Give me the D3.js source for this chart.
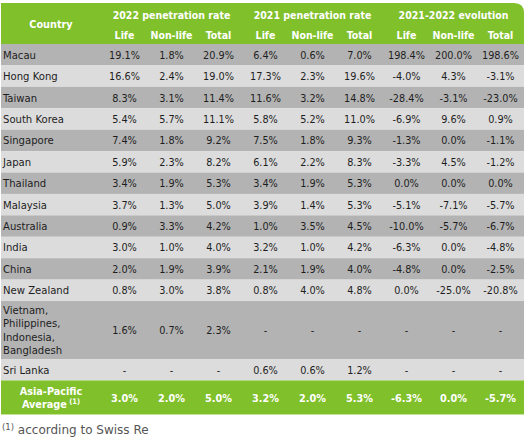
<!DOCTYPE html>
<html>
<head>
<meta charset="utf-8">
<script src="https://cdn.jsdelivr.net/npm/d3@7"></script>
<style>
  html, body { margin: 0; padding: 0; background: #fff; }
  svg text { font-family: "DejaVu Sans Condensed", "DejaVu Sans", sans-serif; font-stretch: condensed; }
</style>
</head>
<body>
<svg id="chart" width="526" height="442"></svg>
<script>
// ---- data ----
const countries = ["Macau", "Hong Kong", "Taiwan", "South Korea", "Singapore", "Japan", "Thailand",
  "Malaysia", "Australia", "India", "China", "New Zealand",
  "Vietnam,\nPhilippines,\nIndonesia,\nBangladesh", "Sri Lanka"];
const life2022    = [19.1, 16.6, 8.3, 5.4, 7.4, 5.9, 3.4, 3.7, 0.9, 3.0, 2.0, 0.8, 1.6, null];
const nonlife2022 = [1.8, 2.4, 3.1, 5.7, 1.8, 2.3, 1.9, 1.3, 3.3, 1.0, 1.9, 3.0, 0.7, null];
const total2022   = [20.9, 19.0, 11.4, 11.1, 9.2, 8.2, 5.3, 5.0, 4.2, 4.0, 3.9, 3.8, 2.3, null];
const life2021    = [6.4, 17.3, 11.6, 5.8, 7.5, 6.1, 3.4, 3.9, 1.0, 3.2, 2.1, 0.8, null, 0.6];
const nonlife2021 = [0.6, 2.3, 3.2, 5.2, 1.8, 2.2, 1.9, 1.4, 3.5, 1.0, 1.9, 4.0, null, 0.6];
const total2021   = [7.0, 19.6, 14.8, 11.0, 9.3, 8.3, 5.3, 5.3, 4.5, 4.2, 4.0, 4.8, null, 1.2];
const lifeEvo     = [198.4, -4.0, -28.4, -6.9, -1.3, -3.3, 0.0, -5.1, -10.0, -6.3, -4.8, 0.0, null, null];
const nonlifeEvo  = [200.0, 4.3, -3.1, 9.6, 0.0, 4.5, 0.0, -7.1, -5.7, 0.0, 0.0, -25.0, null, null];
const totalEvo    = [198.6, -3.1, -23.0, 0.9, -1.1, -1.2, 0.0, -5.7, -6.7, -4.8, -2.5, -20.8, null, null];

const avgLabel = "Asia-Pacific\nAverage";
const avgValues = [3.0, 2.0, 5.0, 3.2, 2.0, 5.3, -6.3, 0.0, -5.7];

const groupLabels = ["2022 penetration rate", "2021 penetration rate", "2021-2022 evolution"];
const subLabels = ["Life", "Non-life", "Total"];
const countryHeader = "Country";
const footnote = "according to Swiss Re";

// ---- layout ----
const svg = d3.select("#chart");
const green = "#80c02a", dark = "#b3b3b3", light = "#dcdcdc", ink = "#1e1e1e";

const colKeys = d3.range(9);
const x = d3.scaleBand().domain(colKeys).range([101, 524]);
const countryX0 = 1, countryX1 = 101, tableX1 = 524;

const headTop = 3, headBottom = 44;
const rowH = 21.42, lineH = 13.5;
const series = [life2022, nonlife2022, total2022, life2021, nonlife2021, total2021, lifeEvo, nonlifeEvo, totalEvo];

const rows = countries.map((c, i) => {
  const lines = c.split("\n");
  return { label: lines, values: series.map(s => s[i]), h: lines.length > 1 ? 58 : rowH };
});
let yy = headBottom;
rows.forEach(r => { r.y = yy; yy += r.h; });
const avgTop = yy, avgH = 34;

const fmt = v => v == null ? "-" : v.toFixed(1) + "%";

// header background with rounded top-right corner
const r = 10;
svg.append("path")
  .attr("d", `M${countryX0},${headTop} H${tableX1 - r} Q${tableX1},${headTop} ${tableX1},${headTop + r} V${headBottom} H${countryX0} Z`)
  .attr("fill", green);

svg.append("text").text(countryHeader)
  .attr("x", (countryX0 + countryX1) / 2).attr("y", 24)
  .attr("text-anchor", "middle").attr("dominant-baseline", "central")
  .attr("fill", "#fff").attr("font-weight", "bold").attr("font-size", 10.8);

groupLabels.forEach((g, gi) => {
  const cx = (x(gi * 3) + x(gi * 3 + 2) + x.bandwidth()) / 2;
  svg.append("text").text(g)
    .attr("x", cx).attr("y", 14.5)
    .attr("text-anchor", "middle").attr("dominant-baseline", "central")
    .attr("fill", "#fff").attr("font-weight", "bold").attr("font-size", 10.5);
});
colKeys.forEach(k => {
  svg.append("text").text(subLabels[k % 3])
    .attr("x", x(k) + x.bandwidth() / 2).attr("y", 34.5)
    .attr("text-anchor", "middle").attr("dominant-baseline", "central")
    .attr("fill", "#fff").attr("font-weight", "bold").attr("font-size", 10.5);
});

// body rows
const gRows = svg.selectAll("g.row").data(rows).join("g").attr("class", "row");
gRows.append("rect")
  .attr("x", countryX0).attr("y", d => d.y)
  .attr("width", tableX1 - countryX0).attr("height", d => d.h)
  .attr("fill", (d, i) => i % 2 === 0 ? dark : light);
gRows.each(function (d) {
  const g = d3.select(this);
  const cy = d.y + d.h / 2;
  const n = d.label.length;
  d.label.forEach((t, li) => {
    g.append("text").text(t)
      .attr("x", 3).attr("y", cy + (li - (n - 1) / 2) * lineH + 0.5)
      .attr("dominant-baseline", "central")
      .attr("fill", ink).attr("font-size", 11.2);
  });
  d.values.forEach((v, k) => {
    g.append("text").text(fmt(v))
      .attr("x", x(k) + x.bandwidth() / 2).attr("y", cy + 0.5)
      .attr("text-anchor", "middle").attr("dominant-baseline", "central")
      .attr("fill", ink).attr("font-size", 10.8);
  });
});

// average row
svg.append("rect").attr("x", countryX0).attr("y", avgTop)
  .attr("width", tableX1 - countryX0).attr("height", avgH).attr("fill", green);
const avgCy = avgTop + avgH / 2;
const avgLines = avgLabel.split("\n");
avgLines.forEach((t, li) => {
  const tx = svg.append("text")
    .attr("x", (countryX0 + countryX1) / 2).attr("y", avgCy + (li - 0.5) * 12.5)
    .attr("text-anchor", "middle").attr("dominant-baseline", "central")
    .attr("fill", "#fff").attr("font-weight", "bold").attr("font-size", 10.8);
  tx.append("tspan").text(t);
  if (li === 1) {
    tx.append("tspan").text(" (1)").attr("font-size", 7.5).attr("dy", -3);
  }
});
avgValues.forEach((v, k) => {
  svg.append("text").text(fmt(v))
    .attr("x", x(k) + x.bandwidth() / 2).attr("y", avgCy + 1)
    .attr("text-anchor", "middle").attr("dominant-baseline", "central")
    .attr("fill", "#fff").attr("font-weight", "bold").attr("font-size", 10.8);
});

// footnote
const fn = svg.append("text").attr("x", 2).attr("y", 434).attr("fill", "#555");
fn.append("tspan").text("(1)").attr("font-size", 8.5).attr("dy", -4).style("font-family", "DejaVu Sans").style("font-stretch", "normal");
fn.append("tspan").text(" " + footnote).attr("font-size", 12).attr("dy", 4).style("font-family", "DejaVu Sans").style("font-stretch", "normal");
</script>
</body>
</html>
